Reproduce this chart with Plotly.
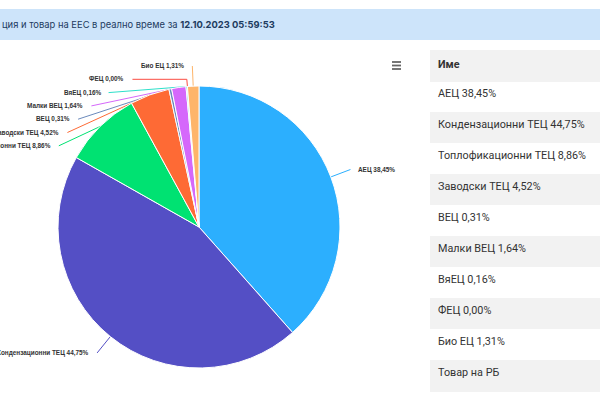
import math
import plotly.graph_objects as go

# values (12.10.2023 05:59:53)
names = ["АЕЦ", "Кондензационни ТЕЦ", "Топлофикационни ТЕЦ", "Заводски ТЕЦ", "ВЕЦ",
         "Малки ВЕЦ", "ВяЕЦ", "ФЕЦ", "Био ЕЦ"]
shares = [38.45, 44.75, 8.86, 4.52, 0.31, 1.64, 0.16, 0.00, 1.31]
extra_row = "Товар на РБ"
table_head = "Име"
title_text = "ция и товар на ЕЕС в реално време за "
title_stamp = "12.10.2023 05:59:53"

colors = ["#2caffe", "#544fc5", "#00e272", "#fe6a35", "#6b8abc",
          "#d568fb", "#2ee0ca", "#fa4b42", "#feb56a"]

W, H = 600, 400
CX, CY, R = 199, 227, 141   # pie centre / radius (px)
LABEL_R = 162               # label ring
LINE_H = 13.3
TOP, BOTTOM = 66, 380
PAD = 6


def fmt(v):
    return f"{v:.2f}".replace(".", ",") + "%"


labels = [f"{n} {fmt(v)}" for n, v in zip(names, shares)]

# mid angle of every slice, clockwise from 12 o'clock
total = sum(shares)
mids = []
acc = 0
for v in shares:
    mids.append((acc + v / 2) / total * 2 * math.pi)
    acc += v

# highcharts-like label distribution: stack labels per side, x on a circle
label_pos = {}
for left in (False, True):
    idx = [i for i, a in enumerate(mids) if (a > math.pi) == left]
    idx.sort(key=lambda i: CY - LABEL_R * math.cos(mids[i]))
    prev = None
    for i in idx:
        nat_y = CY - LABEL_R * math.cos(mids[i])
        y = max(nat_y, TOP) if prev is None else max(nat_y, prev + LINE_H)
        y = min(y, BOTTOM)
        prev = y
        if y <= TOP + 2 or y >= BOTTOM - 2:
            dx = LABEL_R * abs(math.sin(mids[i]))
        else:
            dx = math.sqrt(max(LABEL_R ** 2 - (y - CY) ** 2, 0))
        x = CX - dx if left else CX + dx
        label_pos[i] = (x, y, left)

fig = go.Figure()

# connectors
for i, (x, y, left) in label_pos.items():
    a = mids[i]
    tx, ty = CX + R * math.sin(a), CY - R * math.cos(a)
    xs, ys = [x], [y]
    if abs(math.cos(a)) > 1e-6:
        crook = CX + (CY - y) * math.tan(a)
        ok = (x <= crook <= tx) if left else (tx <= crook <= x)
        if ok:
            xs.append(crook)
            ys.append(y)
    xs.append(tx)
    ys.append(ty)
    fig.add_trace(go.Scatter(x=xs, y=ys, mode="lines", line=dict(color=colors[i], width=1),
                             hoverinfo="skip", showlegend=False))

fig.add_trace(go.Pie(
    labels=names, values=shares, sort=False, direction="clockwise", rotation=0,
    marker=dict(colors=colors, line=dict(color="white", width=1)),
    textinfo="none", hoverinfo="label+percent", showlegend=False,
    domain=dict(x=[(CX - R) / W, (CX + R) / W], y=[(H - CY - R) / H, (H - CY + R) / H]),
))

# table rows; non-breaking spaces so long rows run past the edge instead of wrapping
rows = [s.replace(" ", "\u00a0") for s in labels + [extra_row]]
fills = ["white" if k % 2 == 0 else "#f2f2f2" for k in range(len(rows))]
table_font = dict(family="Roboto", size=10.8, color="#333")
fig.add_trace(go.Table(
    domain=dict(x=[430 / W, 1], y=[0, 350 / H]),
    header=dict(values=[f"<b>{table_head}</b>"], fill_color="#f2f2f2", line_color="#f2f2f2",
                align="left", height=31, font=table_font),
    cells=dict(values=[rows], fill_color=[fills], line_color=[fills], align="left", height=31,
               font=table_font),
))

annotations = []
for i, (x, y, left) in label_pos.items():
    annotations.append(dict(
        x=x - PAD if left else x + PAD, y=y, xref="x", yref="y",
        xanchor="right" if left else "left", yanchor="middle",
        text=f"<b>{labels[i]}</b>", showarrow=False,
        font=dict(family="Liberation Sans", size=6.4, color="#333"),
    ))
annotations.append(dict(
    x=0, y=24.5, xref="x", yref="y", xanchor="left", yanchor="middle", showarrow=False,
    text=f"{title_text}<b>{title_stamp}</b>",
    font=dict(family="Inter", size=9.4, color="#1d3b5f"),
))

shapes = [dict(type="rect", xref="x", yref="y", x0=0, x1=W, y0=9, y1=40,
               fillcolor="#cde4fa", line=dict(width=0), layer="below")]
for yy in (62, 65.5, 69):
    shapes.append(dict(type="line", xref="x", yref="y", x0=392, x1=401, y0=yy, y1=yy,
                       line=dict(color="#666666", width=1.8)))

fig.update_layout(
    width=W, height=H,
    margin=dict(l=0, r=0, t=0, b=0),
    paper_bgcolor="white", plot_bgcolor="rgba(0,0,0,0)",
    xaxis=dict(range=[0, W], visible=False, fixedrange=True),
    yaxis=dict(range=[H, 0], visible=False, fixedrange=True),
    annotations=annotations, shapes=shapes,
)

fig.write_html("out.html", config={"displayModeBar": False},
               post_script="document.body.style.margin = '0';")
